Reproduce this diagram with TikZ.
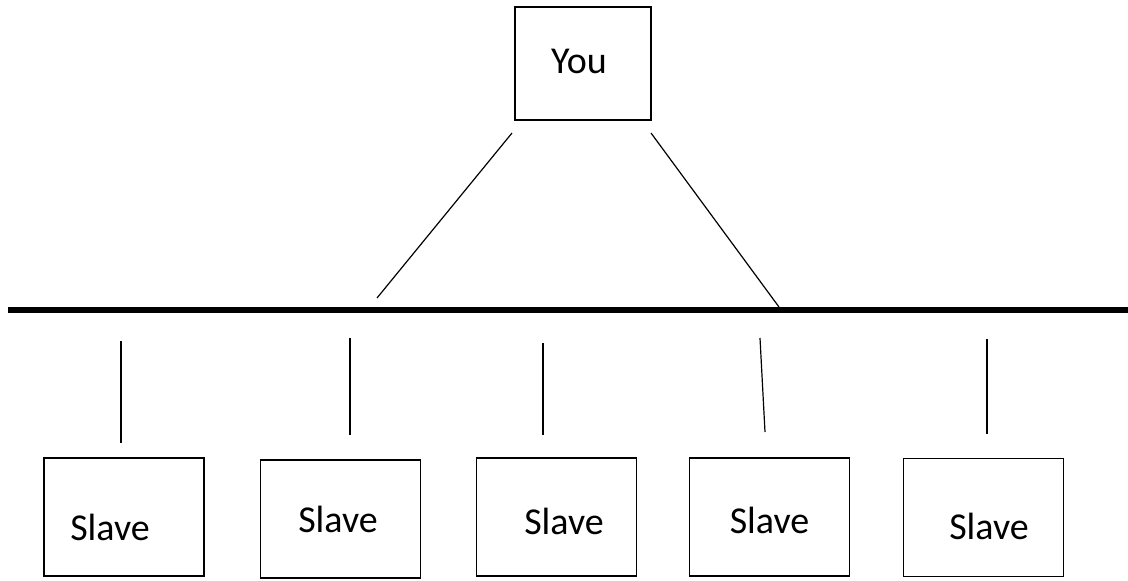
\documentclass[tikz,border=0pt]{standalone}
\usepackage{fontspec}
\setmainfont{Carlito}

\begin{document}
\begin{tikzpicture}[x=1pt,y=-1pt,
  unitbox/.style={draw,line width=1.6pt,minimum width=160pt,minimum height=118pt,inner sep=0pt},
  lbl/.style={font=\fontsize{38}{44}\selectfont,inner sep=0pt},
  wire/.style={line width=1.2pt}]
  \useasboundingbox (0,0) rectangle (1128,581);

  % master box
  \node[unitbox,minimum width=136pt,minimum height=113pt] (you) at (583,63.5) {};
  \node[lbl] (you-t) at (579,61) {You};

  % bus
  \coordinate (bus-w) at (8,309.5);
  \coordinate (bus-e) at (1128,309.5);
  \draw[line width=6pt] (bus-w) -- (bus-e);

  \coordinate (you-l) at (512,133);
  \coordinate (bus-l) at (377,298);
  \coordinate (you-r) at (651,133);
  \coordinate (bus-r) at (779,307);
  \draw[wire] (you-l) -- (bus-l);
  \draw[wire] (you-r) -- (bus-r);

  % slaves
  \foreach \n/\bx/\by/\tx/\ty in {1/124/517/110/527, 2/340.5/519/338/519,
      3/556.5/517/564/521, 4/769.5/517/769.5/520, 5/983.5/517.5/989/526} {
    \node[unitbox] (slave\n) at (\bx,\by) {};
    \node[lbl] (slave\n-t) at (\tx,\ty) {Slave};
  }

  \foreach \n/\xa/\ya/\xb/\yb in {1/121/341/121/443, 2/350/338/350/435,
      3/543/343/543/435, 4/760/338/765/432, 5/987/339/987/434} {
    \coordinate (tap\n-a) at (\xa,\ya);
    \coordinate (tap\n-b) at (\xb,\yb);
    \draw[wire] (tap\n-a) -- (tap\n-b);
  }
\end{tikzpicture}
\end{document}
